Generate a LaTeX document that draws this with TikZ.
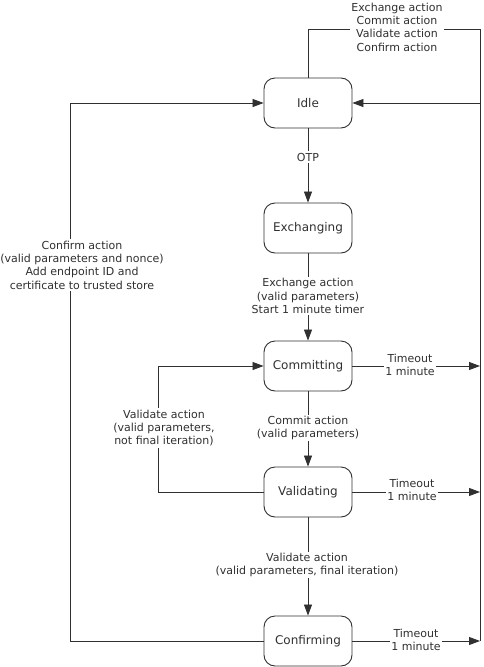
\documentclass[tikz,border=0pt]{standalone}
\usepackage{fontspec}
\setmainfont{DejaVu Sans}
\usetikzlibrary{arrows.meta}
\definecolor{ink}{HTML}{303030}
\tikzset{
  state/.style={draw=ink, line width=0.9pt, rounded corners=11pt, minimum width=88pt, minimum height=50pt, inner sep=0pt, font=\fontsize{12}{14}\selectfont, text=ink},
  conn/.style={draw=ink, line width=0.8pt},
  arr/.style={conn, -{Triangle[length=11pt,width=8pt]}},
  lbl/.style={fill=white, align=center, inner sep=1.5pt, font=\fontsize{11}{13.3}\selectfont, text=ink}
}
\begin{document}
\begin{tikzpicture}[x=1pt,y=-1pt]
\useasboundingbox (0,0) rectangle (483,667);
% states
\node[state] (idle) at (308,103) {Idle};
\node[state] (exch) at (308,228) {Exchanging};
\node[state] (comm) at (308,366) {Committing};
\node[state] (vali) at (308,492) {Validating};
\node[state] (conf) at (308,641) {Confirming};
% helper coordinates
\coordinate (tr) at (480,29);
\coordinate (br) at (480,641);
\coordinate (rl) at (480,103);
\coordinate (L) at (70,103);
\coordinate (V) at (158,366);
% connectors
\draw[conn] (idle.north) |- (tr) -- (br);
\draw[arr] (rl) -- (idle.east);
\draw[arr] (idle.south) -- (exch.north);
\draw[arr] (exch.south) -- (comm.north);
\draw[arr] (comm.south) -- (vali.north);
\draw[arr] (vali.south) -- (conf.north);
\draw[arr] (comm.east) -- (comm.east -| tr);
\draw[arr] (vali.east) -- (vali.east -| tr);
\draw[arr] (conf.east) -- (conf.east -| tr);
\draw[arr] (vali.west) -| (V) -- (comm.west);
\draw[arr] (conf.west) -| (L) -- (idle.west);
% labels
\node[lbl] (ltop) at (397,27) {Exchange action\\Commit action\\Validate action\\Confirm action};
\node[lbl] (lotp) at (308,157) {OTP};
\node[lbl] (lexch) at (308,296) {Exchange action\\(valid parameters)\\Start 1 minute timer};
\node[lbl] (lconf) at (82,265) {Confirm action\\(valid parameters and nonce)\\Add endpoint ID and\\certificate to trusted store};
\node[lbl] (lcomm) at (308,428) {Commit action\\(valid parameters)};
\node[lbl] (lloop) at (164,428) {Validate action\\(valid parameters,\\not final iteration)};
\node[lbl] (lfin) at (307,565) {Validate action\\(valid parameters, final iteration)};
\node[lbl] (t1) at (410,365) {Timeout\\1 minute};
\node[lbl] (t2) at (412,490) {Timeout\\1 minute};
\node[lbl] (t3) at (416,640) {Timeout\\1 minute};
\end{tikzpicture}
\end{document}
